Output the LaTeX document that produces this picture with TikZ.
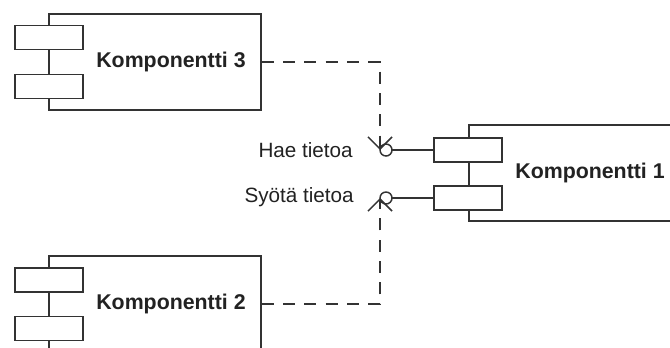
\documentclass[tikz,border=0pt]{standalone}
\usepackage{fontspec}
\setmainfont{Liberation Sans}
\usetikzlibrary{arrows.meta}
\definecolor{umlline}{RGB}{51,51,51}
\definecolor{umltext}{RGB}{34,34,34}

\tikzset{
  comp/.style={draw=umlline,fill=white,line width=1.1pt,minimum width=159pt,minimum height=72pt,inner sep=0pt},
  port/.style={draw=umlline,fill=white,line width=1.1pt,minimum width=51pt,minimum height=18pt,inner sep=0pt},
  ball/.style={circle,draw=umlline,fill=white,line width=1.1pt,minimum size=9pt,inner sep=0pt,outer sep=0pt},
  compname/.style={font=\fontsize{16}{19}\selectfont\bfseries,text=umltext,inner sep=0pt},
  ifname/.style={font=\fontsize{15.5}{18}\selectfont,text=umltext,inner sep=0pt,anchor=east},
  dep/.style={draw=umlline,line width=1.1pt,dash pattern=on 9pt off 7pt,-{Straight Barb[length=9pt,width=18pt,line width=1.1pt]}},
}

\begin{document}
\begin{tikzpicture}[x=0.75pt,y=-0.75pt,line cap=butt,line join=miter]
\clip (0,0) rectangle (670,347);
% components
\node[comp] (k3) at (155,62) {};
\node[port] (k3a) at (49,37.5) {};
\node[port] (k3b) at (49,86.5) {};
\node[compname] (k3t) at (171,62) {Komponentti 3};
\node[comp] (k1) at (575,173) {};
\node[port] (k1a) at (468,150) {};
\node[port] (k1b) at (468,198) {};
\node[compname] (k1t) at (590,173) {Komponentti 1};
\node[comp] (k2) at (155,304) {};
\node[port] (k2a) at (49,280) {};
\node[port] (k2b) at (49,328.5) {};
\node[compname] (k2t) at (171,304) {Komponentti 2};
% provided interfaces
\node[ball] (hae) at (386,150) {};
\node[ball] (syota) at (386,198) {};
\draw[umlline,line width=1.1pt] (hae) -- (k1a);
\draw[umlline,line width=1.1pt] (syota) -- (k1b);
\node[ifname] (haet) at (353,150) {Hae tietoa};
\node[ifname] (syotat) at (354,197) {Syötä tietoa};
% dependencies
\draw[dep] (k3.east) -| (hae.west);
\draw[dep] (k2.east) -| (syota.west);
\end{tikzpicture}
\end{document}
